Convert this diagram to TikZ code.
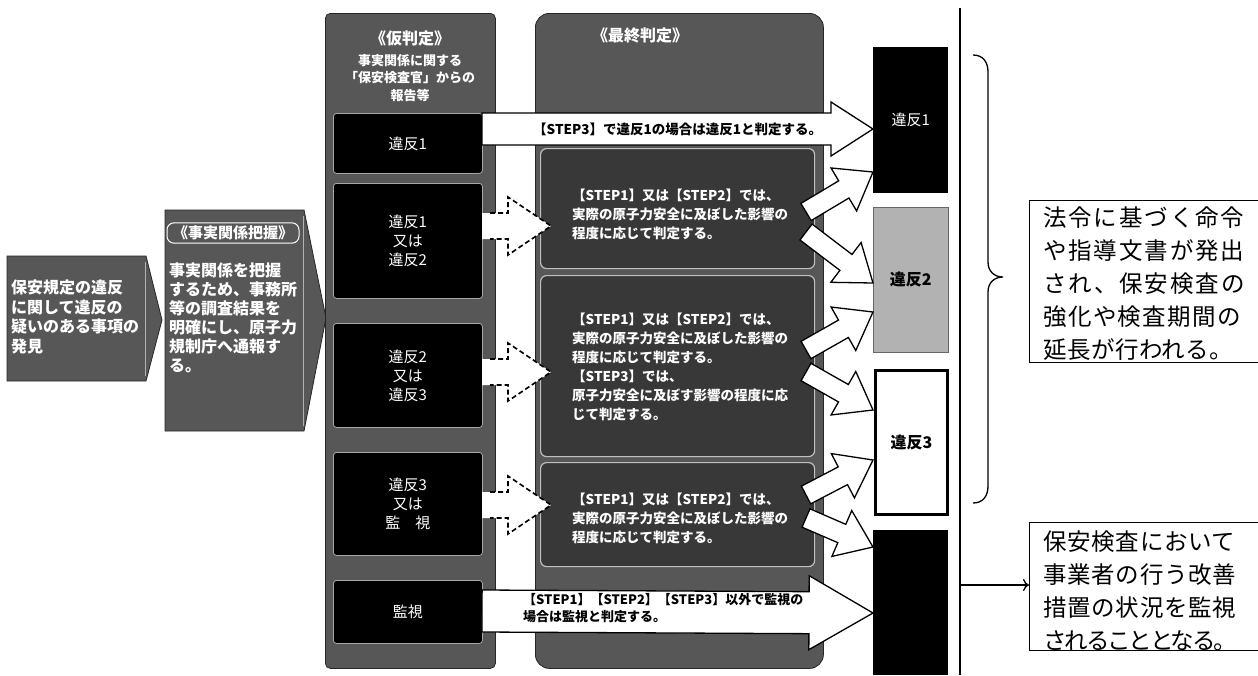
\documentclass[tikz,border=0pt]{standalone}
\usepackage{fontspec}
\setmainfont{Noto Sans CJK JP}
\usetikzlibrary{calc,arrows.meta}
\newcommand\blkarrow[6]{%
  \path ($(#2)!#5!(#1)$) coordinate (bah);
  \draw[#6] ($(#1)!#3!90:(#2)$) -- ($(bah)!#3!-90:(#1)$) -- ($(bah)!#4!-90:(#1)$) -- (#2)
    -- ($(bah)!#4!90:(#1)$) -- ($(bah)!#3!90:(#1)$) -- ($(#1)!#3!-90:(#2)$) -- cycle;
}
\newcommand\dsharrow[2]{%
  \path ($(#2)!43pt!(#1)$) coordinate (dah) ($(#1)!8pt!(#2)$) coordinate (das);
  \fill[white] ($(#1)!13pt!90:(#2)$) -- ($(dah)!13pt!-90:(#1)$) -- ($(dah)!29pt!-90:(#1)$) -- (#2)
    -- ($(dah)!29pt!90:(#1)$) -- ($(dah)!13pt!90:(#1)$) -- ($(#1)!13pt!-90:(#2)$) -- cycle;
  \draw[dasharr] ($(das)!13pt!90:(#2)$) -- ($(dah)!13pt!-90:(#1)$) -- ($(dah)!29pt!-90:(#1)$) -- (#2)
    -- ($(dah)!29pt!90:(#1)$) -- ($(dah)!13pt!90:(#1)$) -- ($(das)!13pt!-90:(#2)$);
}
\newcommand\ls[2]{{\addfontfeature{LetterSpace=#1}#2}}
\tikzset{
  greybg/.style={fill=black!66, draw=black!85, line width=0.8pt},
  colbg/.style={fill=black!66, draw=black!85, line width=0.8pt, anchor=north west, inner sep=0pt},
  blkbox/.style={fill=black, draw=black!35, line width=0.8pt, rounded corners=3pt, anchor=north west, inner sep=0pt,
    minimum width=149, text=white, font=\fontsize{15}{19}\selectfont, align=center},
  panel/.style={fill=black!78, draw=black!25, line width=1.2pt, rounded corners=6pt, anchor=north west, inner sep=0pt},
  wtxt/.style={text=white, font=\bfseries\fontsize{15}{19}\selectfont, inner sep=0pt},
  ptxt/.style={text=white, font=\bfseries\fontsize{13.5}{19}\selectfont, inner sep=0pt, anchor=north west, align=left},
  atxt/.style={text=black, font=\bfseries\fontsize{13}{17}\selectfont, inner sep=0pt, align=left},
  whitearr/.style={fill=white, draw=black, line width=1.3pt, line join=miter},
  dasharr/.style={draw=black, dashed, dash pattern=on 5pt off 3pt, line width=1.6pt},
  resbox/.style={anchor=north west, inner sep=0pt, minimum width=75, minimum height=146},
  notebox/.style={draw=black, line width=1.4pt, anchor=north west, inner sep=0pt, fill=white},
  ntxt/.style={font=\fontsize{23.5}{33}\selectfont, inner sep=0pt, anchor=north west, align=left}
}
\begin{document}
\begin{tikzpicture}[x=1pt,y=-1pt]
\useasboundingbox (0,0) rectangle (1258,675);
\fill[white] (0,0) rectangle (1258,675);

% left box: discovery
\path[greybg] (7,256) -- (146,256) -- (162,320) -- (146,381) -- (7,381) -- cycle;
\draw[black!30, line width=1pt] (145,262) -- (145,376);
\node[wtxt, font=\bfseries\fontsize{16}{19.5}\selectfont, anchor=north west, align=left] (ta) at (11,280) {保安規定の違反\\に関して違反の\\疑いのある事項の\\発見};

% second box: fact finding
\path[greybg] (165,210) -- (304,210) -- (326,318) -- (304,431) -- (165,431) -- cycle;
\draw[black!30, line width=1pt] (303,216) -- (303,426);
\node[wtxt, draw=white!85, line width=1pt, rounded corners=7pt, inner xsep=6pt, inner ysep=3pt] (tbh) at (233,233) {《事実関係把握》};
\node[wtxt, font=\bfseries\fontsize{16}{19}\selectfont, anchor=north west, align=left] (tb) at (169,263) {事実関係を把握\\するため、事務所\\等の調査結果を\\明確にし、原子力\\規制庁へ通報す\\る。};

% third column: provisional judgement
\node[colbg, rounded corners=5pt, minimum width=170, minimum height=655] (c3) at (325,13) {};
\node[wtxt, font=\bfseries\fontsize{16}{19}\selectfont] (c3h) at (410,38) {《仮判定》};
\node[wtxt, font=\bfseries\fontsize{13}{17.5}\selectfont, align=center, anchor=north] (c3s) at (410,54) {事実関係に関する\\「保安検査官」からの\\報告等};
\node[blkbox, minimum height=60] (p1) at (333,113) {違反1};
\node[blkbox, minimum height=115] (p2) at (333,183) {違反1\\又は\\違反2};
\node[blkbox, minimum height=104] (p3) at (333,323) {違反2\\又は\\違反3};
\node[blkbox, minimum height=103] (p4) at (333,452) {違反3\\又は\\監　視};
\node[blkbox, minimum height=63] (p5) at (333,580) {監視};

% big column: final judgement
\node[colbg, rounded corners=14pt, minimum width=288, minimum height=655] (c4) at (535,13) {};
\node[wtxt, font=\bfseries\fontsize{16}{19}\selectfont] (c4h) at (640,36) {《最終判定》};
\node[panel, minimum width=274, minimum height=120] (pa) at (540,148) {};
\node[panel, minimum width=274, minimum height=181] (pb) at (540,275) {};
\node[panel, minimum width=274, minimum height=104] (pc) at (540,462) {};
\node[ptxt] (ta1) at (572,189) {【STEP1】又は【STEP2】では、\\実際の原子力安全に及ぼした影響の\\程度に応じて判定する。};
\node[ptxt] (tb1) at (572,313) {【STEP1】又は【STEP2】では、\\実際の原子力安全に及ぼした影響の\\程度に応じて判定する。\\【STEP3】では、\\原子力安全に及ぼす影響の程度に応\\じて判定する。};
\node[ptxt] (tc1) at (572,493) {【STEP1】又は【STEP2】では、\\実際の原子力安全に及ぼした影響の\\程度に応じて判定する。};

% result boxes
\node[resbox, fill=black, text=white, font=\fontsize{15}{19}\selectfont] (r1) at (873,47) {違反1};
\node[resbox, fill=black!30, draw=black!60, line width=0.6pt, font=\bfseries\fontsize{16}{19}\selectfont, minimum height=145] (r2) at (873,207) {違反2};
\node[resbox, fill=white, draw=black, line width=3pt, font=\bfseries\fontsize{16}{19}\selectfont, minimum width=72, minimum height=144] (r3) at (874,369) {違反3};
\node[resbox, fill=black, minimum height=145] (r4) at (873,530) {};

% connector end points
\coordinate (s0) at (482,129);  \coordinate (e0) at (873,129);
\coordinate (s9) at (482,611);  \coordinate (e9) at (873,613);
\coordinate (d1s) at (482,226); \coordinate (d1e) at (551,226);
\coordinate (d2s) at (482,372); \coordinate (d2e) at (551,372);
\coordinate (d3s) at (482,505); \coordinate (d3e) at (551,505);
\coordinate (a1) at (806,212); \coordinate (a1t) at (873,172);
\coordinate (a2) at (806,232); \coordinate (a2t) at (873,283);
\coordinate (b1) at (806,350); \coordinate (b1t) at (873,312);
\coordinate (b2) at (806,372); \coordinate (b2t) at (873,410);
\coordinate (c1) at (806,495); \coordinate (c1t) at (873,460);
\coordinate (c2) at (806,518); \coordinate (c2t) at (873,547);

% long arrows
\blkarrow{s0}{e0}{16pt}{27pt}{42pt}{whitearr}
\node[atxt, anchor=west, font=\bfseries\fontsize{13.5}{17}\selectfont] (t0) at (533,129) {【STEP3】で違反1の場合は違反1と判定する。};
\blkarrow{s9}{e9}{21pt}{37pt}{64pt}{whitearr}
\node[atxt, anchor=north west] (t9) at (523,593) {【STEP1】【STEP2】【STEP3】以外で監視の\\場合は監視と判定する。};

% dashed arrows
\dsharrow{d1s}{d1e}
\dsharrow{d2s}{d2e}
\dsharrow{d3s}{d3e}

% arrows to result boxes
\blkarrow{a1}{a1t}{10pt}{25pt}{34pt}{whitearr}
\blkarrow{a2}{a2t}{10pt}{25pt}{34pt}{whitearr}
\blkarrow{b1}{b1t}{10pt}{25pt}{34pt}{whitearr}
\blkarrow{b2}{b2t}{10pt}{25pt}{34pt}{whitearr}
\blkarrow{c1}{c1t}{10pt}{25pt}{34pt}{whitearr}
\blkarrow{c2}{c2t}{10pt}{25pt}{34pt}{whitearr}

% right side
\coordinate (vt) at (960,8); \coordinate (vb) at (960,675);
\draw[line width=1.3pt] (vt) -- (vb);
\draw[line width=1.3pt] (973,55) .. controls (983,55) and (988,62) .. (988,72) -- (988,262)
  .. controls (988,272) and (995,277) .. (1003,277) .. controls (995,277) and (988,282) .. (988,292)
  -- (988,486) .. controls (988,496) and (983,503) .. (973,503);
\node[notebox, minimum width=229, minimum height=162] (n1) at (1029,200) {};
\node[ntxt] (n1t) at (1043,207) {\ls{8}{法令に基づく命令}\\\ls{8}{や指導文書が発出}\\\ls{8}{され、保安検査の}\\\ls{6}{強化や検査期間の}\\\ls{2}{延長が行われる。}};
\node[notebox, minimum width=229, minimum height=128] (n2) at (1029,522) {};
\node[ntxt] (n2t) at (1043,531) {\ls{3}{保安検査において}\\\ls{3}{事業者の行う改善}\\\ls{3}{措置の状況を監視}\\\ls{-9}{されることとなる。}};
\coordinate (ar) at (960,585);
\draw[line width=1.3pt, -{To[length=6pt,width=12pt]}] (ar) -- (n2.west |- ar);
\end{tikzpicture}
\end{document}
